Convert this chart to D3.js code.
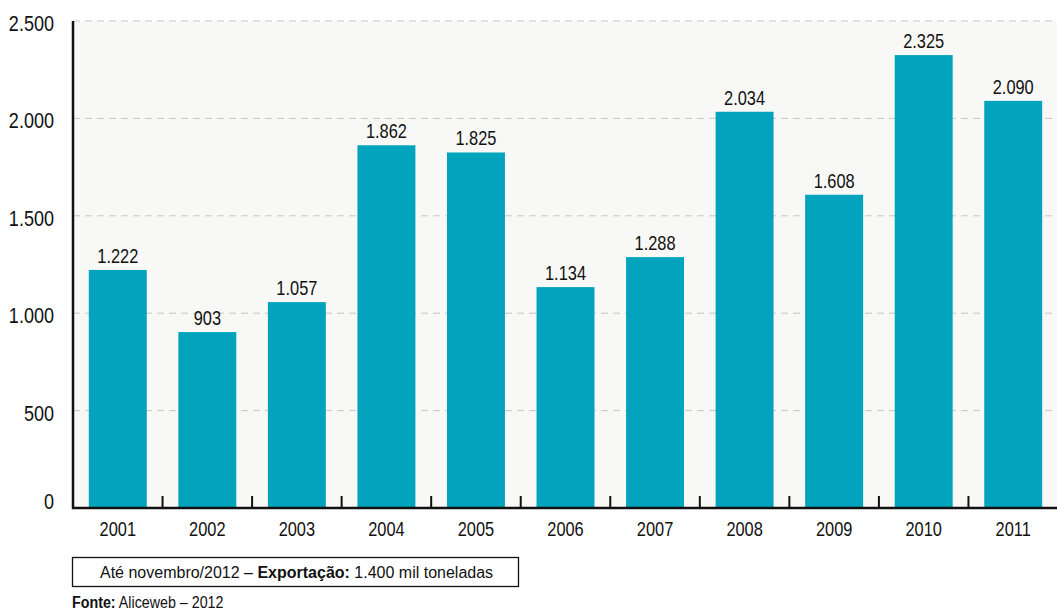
<!DOCTYPE html>
<html><head><meta charset="utf-8">
<script src="https://cdn.jsdelivr.net/npm/d3@7"></script>
<style>
body{margin:0;background:#fff;}
svg{display:block;}
.narrow{font-family:"Liberation Sans",Arial,sans-serif;}
</style></head>
<body>
<svg id="c" width="1057" height="612"></svg>
<script>
const years = ["2001","2002","2003","2004","2005","2006","2007","2008","2009","2010","2011"];
const values = [1222, 903, 1057, 1862, 1825, 1134, 1288, 2034, 1608, 2325, 2090];
const yTicks = [0, 500, 1000, 1500, 2000, 2500];

(function(){
const svg = d3.select("#c");
const mLeft = 73, mRight = 1058, mTop = 21, mBottom = 508;
const SX = 0.82;
const fmt = v => d3.format(",")(v).replace(/,/g, ".");
const at = (px, py, s) => `translate(${px},${py}) scale(${s || SX},1)`;

const x = d3.scaleBand().domain(years).range([mLeft, mRight]).paddingInner(0.353).paddingOuter(0.1765);
const y = d3.scaleLinear().domain([0, 2500]).range([mBottom, mTop]);

svg.append("rect").attr("x", mLeft).attr("y", mTop).attr("width", 1057 - mLeft).attr("height", mBottom - mTop).attr("fill", "#f8f8f6");

// gridlines
svg.append("g").selectAll("line").data(yTicks.filter(d => d > 0)).join("line")
  .attr("x1", mLeft).attr("x2", 1057)
  .attr("y1", d => y(d)).attr("y2", d => y(d))
  .attr("stroke", "#c6c6c6").attr("stroke-width", 1).attr("stroke-dasharray", "7,5");

// y labels
svg.append("g").attr("class", "narrow").selectAll("text").data(yTicks).join("text")
  .attr("transform", d => at(54, y(d) + (d === 0 ? -7 : 2)))
  .attr("dy", "0.36em").attr("text-anchor", "end")
  .attr("font-size", 22).attr("fill", "#111").text(d => fmt(d));

// bars
svg.append("g").selectAll("rect").data(values).join("rect")
  .attr("x", (d, i) => x(years[i])).attr("width", x.bandwidth())
  .attr("y", d => y(d)).attr("height", d => y(0) - y(d))
  .attr("fill", "#02a3bd");

// value labels
svg.append("g").attr("class", "narrow").selectAll("text").data(values).join("text")
  .attr("transform", (d, i) => at(x(years[i]) + x.bandwidth() / 2, y(d) - 7))
  .attr("text-anchor", "middle").attr("font-size", 20).attr("fill", "#111")
  .text(d => fmt(d));

// x tick marks between bands
svg.append("g").selectAll("line").data(years.slice(1)).join("line")
  .attr("x1", d => x(d) - x.step() * x.paddingInner() / 2)
  .attr("x2", d => x(d) - x.step() * x.paddingInner() / 2)
  .attr("y1", mBottom - 12).attr("y2", mBottom)
  .attr("stroke", "#111").attr("stroke-width", 2);

// axes lines
svg.append("line").attr("x1", mLeft).attr("x2", mLeft).attr("y1", mTop).attr("y2", mBottom + 1)
  .attr("stroke", "#111").attr("stroke-width", 2.5);
svg.append("line").attr("x1", mLeft - 1).attr("x2", 1057).attr("y1", mBottom).attr("y2", mBottom)
  .attr("stroke", "#111").attr("stroke-width", 2.5);

// x labels
svg.append("g").attr("class", "narrow").selectAll("text").data(years).join("text")
  .attr("transform", d => at(x(d) + x.bandwidth() / 2, 536))
  .attr("text-anchor", "middle").attr("font-size", 20).attr("fill", "#111").text(d => d);

// note box
svg.append("rect").attr("x", 72.5).attr("y", 557.5).attr("width", 446).attr("height", 29)
  .attr("fill", "#fff").attr("stroke", "#111").attr("stroke-width", 1.3);
const note = svg.append("text").attr("x", 100).attr("y", 578).attr("font-size", 16)
  .attr("font-family", "Liberation Sans, Arial, sans-serif").attr("fill", "#111");
note.append("tspan").text("Até novembro/2012 – ");
note.append("tspan").attr("font-weight", "bold").text("Exportação:");
note.append("tspan").text(" 1.400 mil toneladas");

const src = svg.append("text").attr("class", "narrow").attr("transform", at(72, 608, 0.84))
  .attr("font-size", 17).attr("fill", "#111");
src.append("tspan").attr("font-weight", "bold").text("Fonte:");
src.append("tspan").text(" Aliceweb – 2012");
})();
</script>
</body></html>
